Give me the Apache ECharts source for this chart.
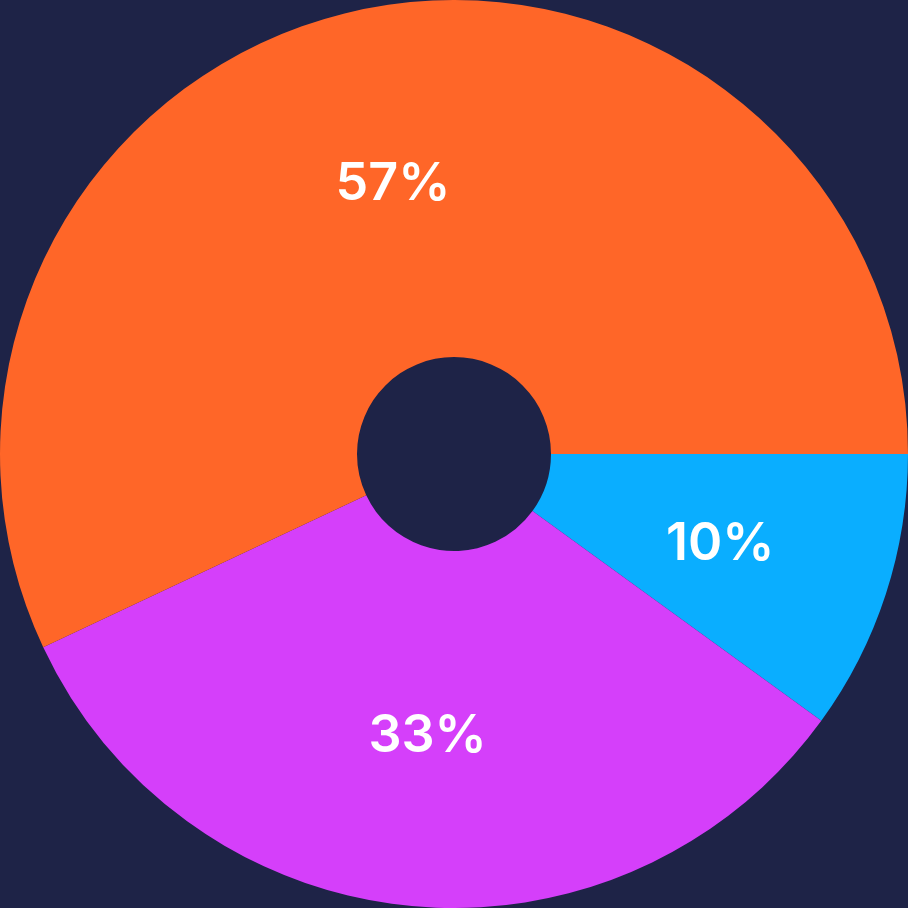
<!DOCTYPE html>
<html>
<head>
<meta charset="utf-8">
<style>
html,body{margin:0;padding:0;background:#1E2347;}
#chart{width:908px;height:908px;}
</style>
<script src="https://cdn.jsdelivr.net/npm/echarts@6/dist/echarts.min.js"></script>
</head>
<body>
<div id="chart"></div>
<script>
const categories = ['A', 'B', 'C'];
const values = [10, 33, 57];
const colors = ['#0AAEFF', '#D53FFA', '#FF6628'];

const chart = echarts.init(document.getElementById('chart'), null, {renderer: 'canvas'});
chart.setOption({
  backgroundColor: '#1E2347',
  animation: false,
  series: [{
    type: 'pie',
    center: [454, 454],
    radius: [97, 454],
    startAngle: 0,
    clockwise: true,
    avoidLabelOverlap: false,
    itemStyle: { borderWidth: 0 },
    label: { show: false },
    labelLine: { show: false },
    emphasis: { disabled: true },
    silent: true,
    data: categories.map((c, i) => ({ name: c, value: values[i], itemStyle: { color: colors[i] } }))
  }, {
    type: 'pie',
    center: [454, 458],
    radius: [100, 454],
    startAngle: 0,
    clockwise: true,
    avoidLabelOverlap: false,
    silent: true,
    itemStyle: { color: 'rgba(0,0,0,0)', borderWidth: 0 },
    label: {
      show: true,
      position: 'inside',
      formatter: '{c}%',
      color: '#FFFFFF',
      fontFamily: 'Inter',
      fontWeight: 600,
      fontSize: 52
    },
    labelLine: { show: false },
    emphasis: { disabled: true },
    data: categories.map((c, i) => ({ name: c, value: values[i] }))
  }]
});
</script>
</body>
</html>
